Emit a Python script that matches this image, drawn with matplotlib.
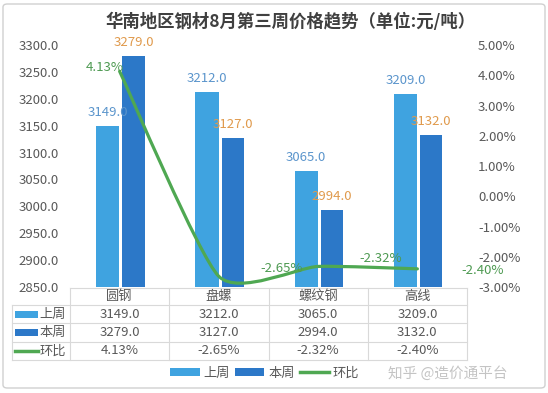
import numpy as np
import matplotlib.pyplot as plt
from matplotlib.path import Path
from matplotlib.patches import PathPatch, FancyBboxPatch, Rectangle
from matplotlib.lines import Line2D
from matplotlib.transforms import blended_transform_factory

plt.rcParams['font.family'] = ['Noto Sans CJK SC', 'DejaVu Sans']

# chart data
title = '华南地区钢材8月第三周价格趋势（单位:元/吨）'
categories = ['圆钢', '盘螺', '螺纹钢', '高线']
series_names = ['上周', '本周', '环比']
last_week = [3149.0, 3212.0, 3065.0, 3209.0]
this_week = [3279.0, 3127.0, 2994.0, 3132.0]
change_pct = [4.13, -2.65, -2.32, -2.40]
watermark = '知乎 @造价通平台'

c_last = '#3FA3E0'
c_this = '#2C78C8'
c_line = '#4FA852'
c_text = '#595959'
c_grid = '#D9D9D9'
fs = 9.5

W, H = 548, 393
fig = plt.figure(figsize=(W / 100, H / 100), dpi=100)

# frame round the whole picture
fig.add_artist(FancyBboxPatch((3 / W, 5 / H), 542 / W, 384 / H,
                              boxstyle='round,pad=0,rounding_size=0.008',
                              transform=fig.transFigure, fc='white',
                              ec='#D0D0D0', lw=1, zorder=-5))

ax = fig.add_axes([70 / W, 1 - 287 / H, 397 / W, 242 / H])
ax.patch.set_alpha(0)
ax2 = ax.twinx()

x = np.arange(len(categories))
bw = 0.235
b1 = ax.bar(x - 0.12, last_week, bw, color=c_last, zorder=2)
b2 = ax.bar(x + 0.14, this_week, bw * 0.95, color=c_this, zorder=2)

ax.set_xlim(-0.5, len(categories) - 0.5)
ax.set_ylim(2850, 3300)
ax.set_yticks(np.arange(2850, 3301, 50))
ax.yaxis.set_major_formatter(lambda v, p: f'{v:.1f}')
ax.set_xticks([])
ax2.set_ylim(-3, 5)
ax2.set_yticks(np.arange(-3, 5.01, 1))
ax2.yaxis.set_major_formatter(lambda v, p: f'{v:.2f}%')
for a in (ax, ax2):
    for s in a.spines.values():
        s.set_visible(False)
ax.tick_params(axis='y', length=0, pad=8, labelsize=fs, labelcolor=c_text)
ax2.tick_params(axis='y', length=0, pad=8, labelsize=fs, labelcolor=c_text)

# bar value labels
for rect, v in zip(b1, last_week):
    ax.annotate(f'{v:.1f}', (rect.get_x() + rect.get_width() / 2, v),
                xytext=(0, 5), textcoords='offset points', ha='center',
                va='bottom', fontsize=fs, color='#5B95CC', zorder=4)
for rect, v in zip(b2, this_week):
    ax.annotate(f'{v:.1f}', (rect.get_x() + rect.get_width() / 2, v),
                xytext=(0, 5), textcoords='offset points', ha='center',
                va='bottom', fontsize=fs, color='#E09A4C', zorder=4)

# smoothed line for the change rate
pts = np.column_stack([x, change_pct]).astype(float)
k = 0.1
verts = [pts[0]]
codes = [Path.MOVETO]
for i in range(len(pts) - 1):
    p_prev = pts[max(i - 1, 0)]
    p_next = pts[min(i + 2, len(pts) - 1)]
    verts += [pts[i] + k * (pts[i + 1] - p_prev),
              pts[i + 1] - k * (p_next - pts[i]),
              pts[i + 1]]
    codes += [Path.CURVE4] * 3
ax2.add_patch(PathPatch(Path(verts, codes), fill=False, ec=c_line, lw=2.3,
                        capstyle='round', zorder=3))

label_offsets = [(3, 3), (30, 6), (30, 6), (32, -1)]
for xi, v, off in zip(x, change_pct, label_offsets):
    ax2.annotate(f'{v:.2f}%', (xi, v), xytext=off, textcoords='offset points',
                 ha='right' if off[0] < 10 else 'left', va='center',
                 fontsize=fs, color='#4E9A52')

fig.text(291 / W, 1 - 22 / H, title, ha='center', va='center',
         fontsize=12.5, fontweight='bold', color='#404040')

# data table under the plot
tr = blended_transform_factory(ax.transData, fig.transFigure)
row_y = [288, 305, 323, 342, 360]
row_y = [1 - r / H for r in row_y]
left = -0.5 - 58 / 99
right = len(categories) - 0.5
line_kw = dict(color=c_grid, lw=0.8, transform=tr)
fig.add_artist(Line2D([-0.5, right], [row_y[0]] * 2, **line_kw))
for yy in row_y[1:]:
    fig.add_artist(Line2D([left, right], [yy] * 2, **line_kw))
fig.add_artist(Line2D([left, left], [row_y[1], row_y[-1]], **line_kw))
for xv in np.arange(-0.5, right + 0.01, 1):
    fig.add_artist(Line2D([xv, xv], [row_y[0], row_y[-1]], **line_kw))


def mid(i):
    return (row_y[i] + row_y[i + 1]) / 2


for xi, c in zip(x, categories):
    fig.text(xi, mid(0), c, transform=tr, ha='center', va='center',
             fontsize=fs, color=c_text)
rows = [[f'{v:.1f}' for v in last_week],
        [f'{v:.1f}' for v in this_week],
        [f'{v:.2f}%' for v in change_pct]]
for r, vals in enumerate(rows):
    for xi, t in zip(x, vals):
        fig.text(xi, mid(r + 1), t, transform=tr, ha='center', va='center',
                 fontsize=fs, color=c_text)

# row headers with their swatches
sw_x0 = -0.5 - 55 / 99
sw_w = 23 / 99
for r, (name, col) in enumerate(zip(series_names, [c_last, c_this, c_line])):
    ym = mid(r + 1)
    if r < 2:
        fig.add_artist(Rectangle((sw_x0, ym - 3.5 / H), sw_w, 7 / H,
                                 transform=tr, fc=col, ec='none'))
    else:
        fig.add_artist(Line2D([sw_x0, sw_x0 + sw_w], [ym, ym], transform=tr,
                              color=col, lw=2.5))
    fig.text(-0.5 - 4 / 99, ym, name, transform=tr, ha='right', va='center',
             fontsize=fs, color=c_text)

handles = [Rectangle((0, 0), 1, 1, fc=c_last), Rectangle((0, 0), 1, 1, fc=c_this),
           Line2D([], [], color=c_line, lw=2.5)]
fig.legend(handles, series_names, loc='center', ncol=3,
           bbox_to_anchor=(265 / W, 1 - 373 / H), frameon=False, fontsize=fs,
           handlelength=2.2, handleheight=0.55, handletextpad=0.3,
           columnspacing=0.4, labelcolor=c_text)

fig.text(448 / W, 1 - 373 / H, watermark, ha='center', va='center',
         fontsize=10.5, color='#C4C4C4')

fig.savefig('out.png', dpi=100)
